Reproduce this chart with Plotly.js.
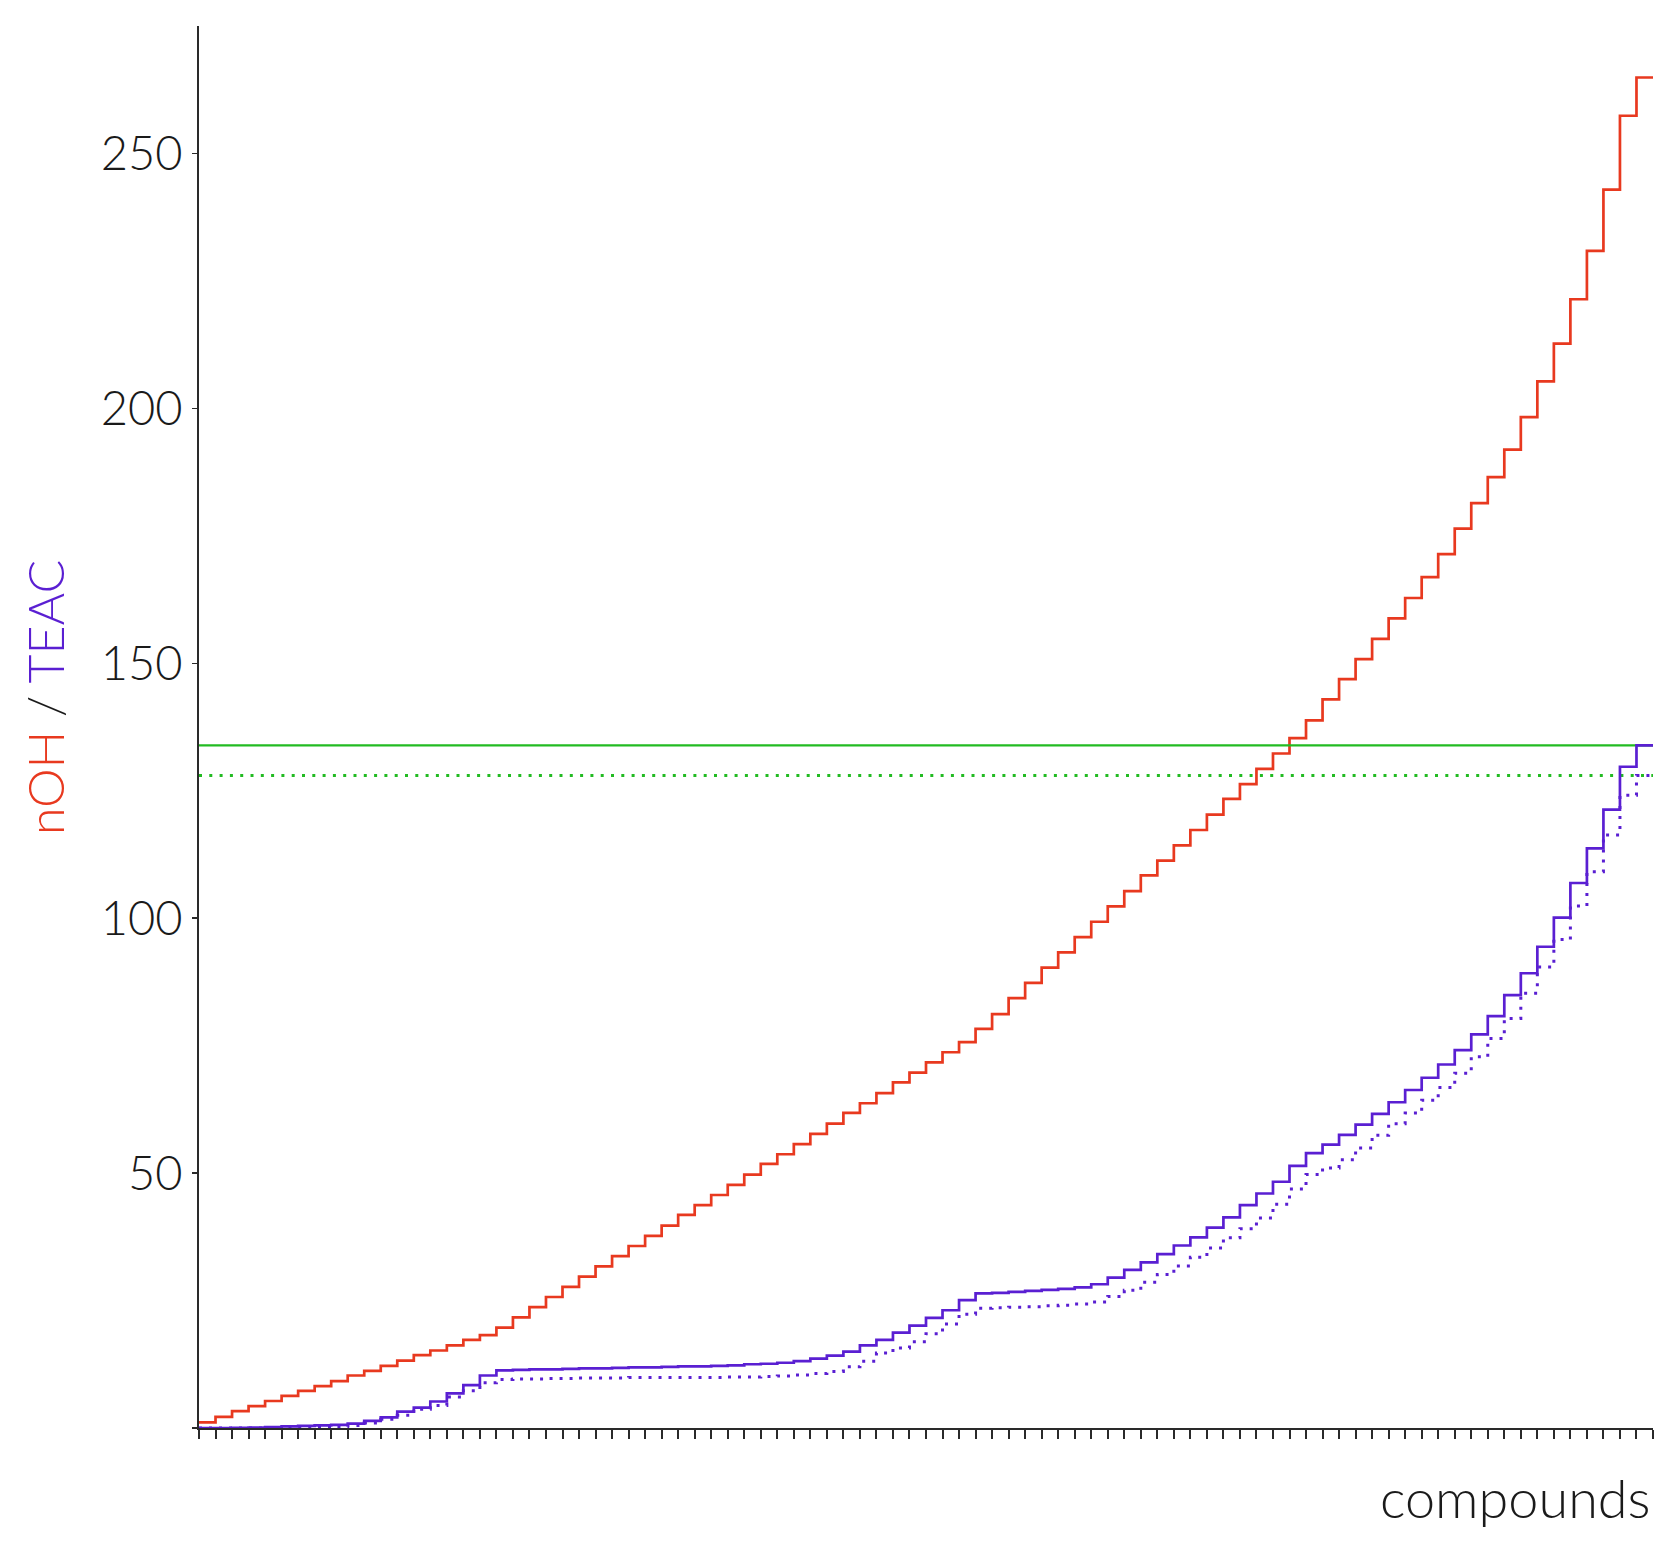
<!DOCTYPE html>
<html>
<head>
<meta charset="utf-8">
<script src="https://cdn.plot.ly/plotly-3.0.1.min.js"></script>
<style>
  html, body { margin: 0; padding: 0; background: #ffffff; }
  #chart { width: 1678px; height: 1546px; }
</style>
</head>
<body>
<div id="chart"></div>
<script>
// cumulative nOH (red step line), one value per compound
const nOH = [1.1, 2.2, 3.3, 4.3, 5.3, 6.3, 7.3, 8.2, 9.2, 10.3, 11.2, 12.2, 13.2, 14.3, 15.2, 16.2, 17.3, 18.2,
  19.7, 21.7, 23.7, 25.7, 27.7, 29.7, 31.7, 33.7, 35.7, 37.7, 39.7, 41.8, 43.7, 45.7, 47.7, 49.7, 51.8, 53.7,
  55.7, 57.7, 59.7, 61.8, 63.7, 65.7, 67.8, 69.7, 71.7, 73.7, 75.7,
  78.3, 81.2, 84.3, 87.3, 90.3, 93.3, 96.3, 99.3, 102.3, 105.3, 108.4, 111.3, 114.3, 117.3, 120.3, 123.4,
  126.3, 129.3, 132.3, 135.3,
  138.8, 142.9, 146.9, 150.8, 154.8, 158.8, 162.8, 166.9,
  171.4, 176.4, 181.4, 186.5, 191.9, 198.3, 205.3, 212.7, 221.4, 230.9, 242.9, 257.4, 264.9];

// cumulative TEAC (solid blue step line)
const teac = [0, 0, 0.05, 0.1, 0.2, 0.3, 0.4, 0.5, 0.6, 0.85, 1.4, 2.1, 3.2, 4.0, 5.2, 6.8, 8.4, 10.3,
  11.3, 11.4, 11.5, 11.5, 11.6, 11.7, 11.7, 11.8, 11.9, 11.9, 12.0, 12.1, 12.1, 12.2,
  12.3, 12.5, 12.6, 12.8, 13.1, 13.6, 14.2, 15.0, 16.2, 17.3, 18.7, 20.1, 21.6, 23.1, 25.1,
  26.4, 26.5, 26.7, 26.9, 27.1, 27.3, 27.6, 28.2, 29.5, 31.0, 32.5, 34.1, 35.8, 37.4, 39.3, 41.3, 43.7, 46.0,
  48.3, 51.4, 53.9, 55.6, 57.5, 59.5, 61.6, 63.9, 66.3, 68.7, 71.3, 74.1, 77.2, 80.8, 84.9, 89.2,
  94.4, 100.1, 106.9, 113.7, 121.3, 129.7, 133.9];

// cumulative TEAC, second estimate (dotted blue step line)
const teacAlt = [0, 0, 0, 0, 0.05, 0.1, 0.15, 0.2, 0.3, 0.5, 1.0, 1.7, 2.5, 3.7, 4.4, 6.1, 7.3, 8.9,
  9.5, 9.6, 9.6, 9.7, 9.7, 9.8, 9.8, 9.8, 9.9, 9.9, 9.9, 9.9,
  9.9, 9.9, 10.0, 10.0, 10.1, 10.2, 10.4,
  10.7, 11.1, 12.0, 13.1, 14.7, 15.7, 16.9, 18.5, 20.4, 22.3, 23.5, 23.6, 23.7, 23.8, 24.0, 24.1,
  24.3, 24.7, 25.8, 27.0, 28.6, 30.1, 31.8, 33.5, 35.3, 37.3, 39.1, 41.2,
  43.9, 46.9, 49.7, 51.0, 52.6, 54.9, 57.4, 59.7, 61.8, 64.3, 66.8, 69.6, 72.8, 76.4, 80.3, 85.3,
  90.4, 95.8, 102.4, 109.1, 116.3, 124.1, 128.0];

// totals (green reference lines)
const totalTeac = 133.9;
const totalTeacAlt = 128.0;

// y tick labels
const yTickVals = [0, 50, 100, 150, 200, 250];
const yTickText = ['', '50', '100', '150', '200', '250'];

const nCompounds = nOH.length;              // 88
const compoundIdx = Array.from({length: nCompounds + 1}, (_, i) => i);
const ext = arr => arr.concat([arr[arr.length - 1]]);

const RED = '#e8391f';
const BLUE = '#5a1fd2';
const GREEN = '#22bb22';
const FONT = 'Lato, "Open Sans", sans-serif';

const traces = [
  { x: compoundIdx, y: ext(nOH), type: 'scatter', mode: 'lines',
    line: { shape: 'hv', color: RED, width: 2.7 }, name: 'nOH', hoverinfo: 'skip' },
  { x: [0, nCompounds], y: [totalTeac, totalTeac], type: 'scatter', mode: 'lines',
    line: { color: GREEN, width: 2.3 }, name: 'total TEAC', hoverinfo: 'skip' },
  { x: [0, nCompounds], y: [totalTeacAlt, totalTeacAlt], type: 'scatter', mode: 'lines',
    line: { color: GREEN, width: 3, dash: '3px,7.3px' }, name: 'total TEAC (alt)', hoverinfo: 'skip' },
  { x: compoundIdx, y: ext(teacAlt), type: 'scatter', mode: 'lines',
    line: { shape: 'hv', color: BLUE, width: 3, dash: '3px,7px' }, name: 'TEAC (alt)', hoverinfo: 'skip' },
  { x: compoundIdx, y: ext(teac), type: 'scatter', mode: 'lines',
    line: { shape: 'hv', color: BLUE, width: 2.7 }, name: 'TEAC', hoverinfo: 'skip' }
];

const layout = {
  width: 1678, height: 1546,
  margin: { l: 199, r: 25, t: 26, b: 118, pad: 0 },
  paper_bgcolor: '#ffffff', plot_bgcolor: '#ffffff',
  showlegend: false,
  font: { family: FONT, color: '#1a1a1a' },
  xaxis: {
    range: [0, nCompounds], tickmode: 'linear', tick0: 0, dtick: 1,
    showticklabels: false, ticks: 'outside', ticklen: 9, tickwidth: 2, tickcolor: '#2a2a2a',
    showline: true, linecolor: '#2a2a2a', linewidth: 2, showgrid: false, zeroline: false,
    fixedrange: true
  },
  yaxis: {
    range: [0, 275], tickmode: 'array', tickvals: yTickVals, ticktext: yTickText,
    ticks: 'outside', ticklen: 5, tickwidth: 1.5, tickcolor: '#2a2a2a',
    tickfont: { family: FONT, size: 47, color: '#1a1a1a', weight: 300 },
    showline: true, linecolor: '#2a2a2a', linewidth: 2, showgrid: false, zeroline: false,
    fixedrange: true
  },
  annotations: [
    { xref: 'paper', yref: 'paper', x: -0.1059, y: 0.5207, xanchor: 'center', yanchor: 'middle',
      textangle: -90, showarrow: false,
      text: '<span style="color:' + RED + '">nOH</span> / <span style="color:' + BLUE + '">TEAC</span>',
      font: { family: FONT, size: 50, color: '#1a1a1a', weight: 300 } },
    { xref: 'paper', yref: 'paper', x: 1, y: -0.0499, xanchor: 'right', yanchor: 'middle',
      showarrow: false, text: 'compounds',
      font: { family: FONT, size: 54, color: '#1a1a1a', weight: 300 } }
  ]
};

Plotly.newPlot('chart', traces, layout, { displayModeBar: false, staticPlot: true });
</script>
</body>
</html>
